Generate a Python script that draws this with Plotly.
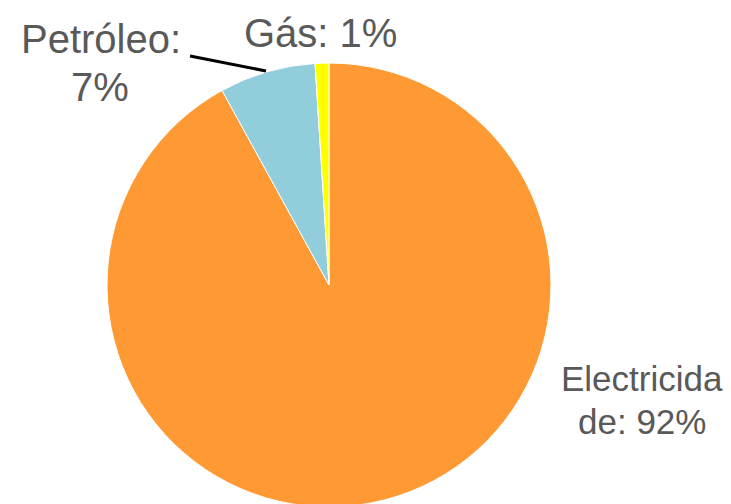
import plotly.graph_objects as go

labels = ["Electricidade", "Petróleo", "Gás"]
values = [92, 7, 1]
colors = ["#FF9933", "#92CDDC", "#FFFF00"]

W, H = 731, 504
OFF = 8  # page body margin offset

def px(x):
    return (x - OFF) / W

def py(y):
    return 1 - (y - OFF) / H

cx, cy, r = 329, 285, 222
fig = go.Figure(go.Pie(
    labels=labels, values=values, sort=False, direction="clockwise", rotation=0,
    marker=dict(colors=colors, line=dict(color="white", width=1)),
    textinfo="none", showlegend=False,
    domain=dict(x=[px(cx - r), px(cx + r)], y=[py(cy + r), py(cy - r)]),
))

def ann(text, x, y, size=40):
    fig.add_annotation(text=text, x=px(x), y=py(y), xref="paper", yref="paper",
                       showarrow=False,
                       font=dict(family="Liberation Sans, Arial, sans-serif", size=size, color="#595959"),
                       xanchor="center", yanchor="middle")

ann("Petróleo:", 101, 39)
ann(f"{values[1]}%", 100, 87)
ann(f"Gás: {values[2]}%", 320, 33)
ann("Electricida", 642, 378, size=35)
ann(f"de: {values[0]}%", 642, 421, size=35)

fig.add_shape(type="line", xref="paper", yref="paper",
              x0=px(190), y0=py(56), x1=px(266), y1=py(71),
              line=dict(color="black", width=3))

fig.update_layout(width=W, height=H, margin=dict(l=0, r=0, t=0, b=0),
                  paper_bgcolor="white", plot_bgcolor="white")

fig.write_html("out.html")
